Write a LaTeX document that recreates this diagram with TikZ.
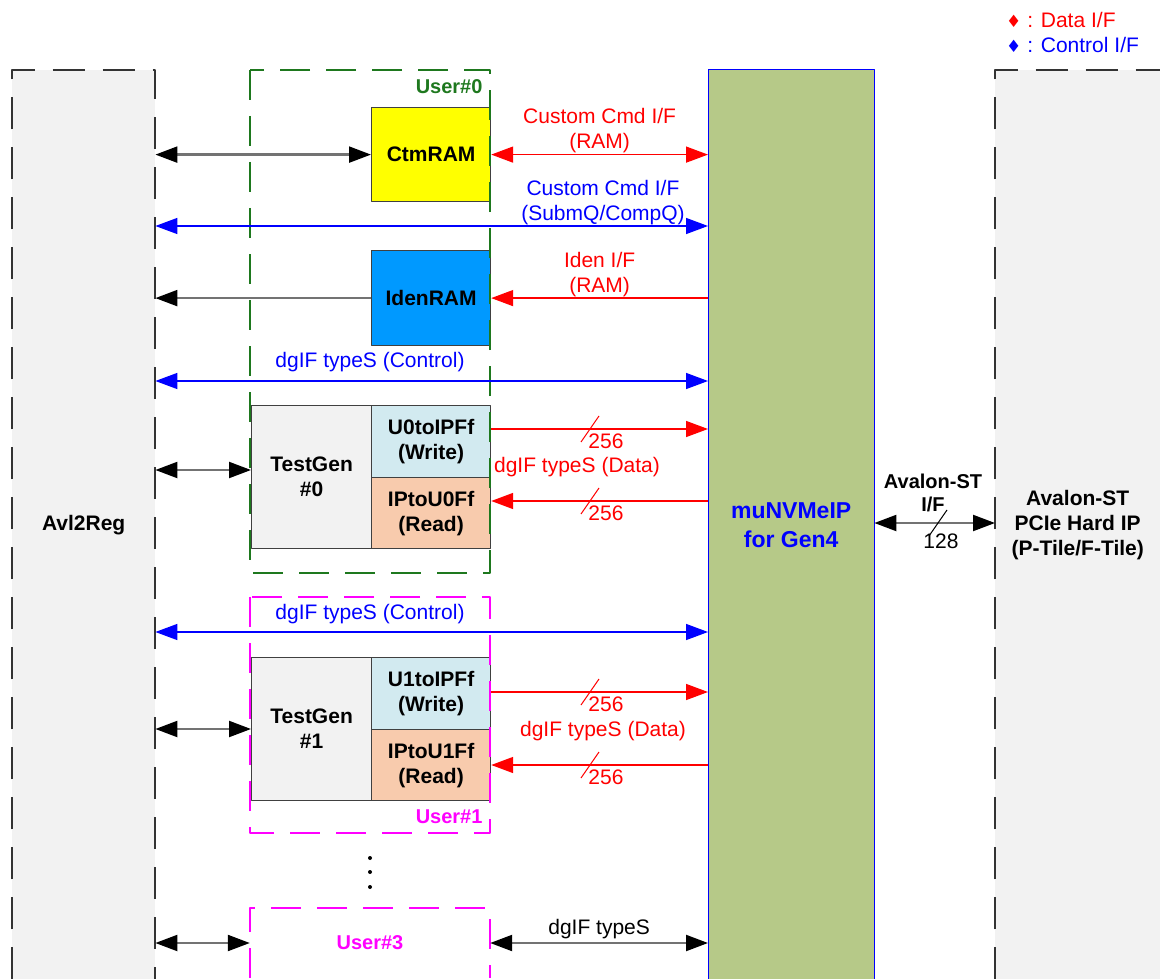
\documentclass[tikz,border=0pt]{standalone}
\usepackage{fontspec}
\setmainfont{Liberation Sans}
\newfontfamily\symf{DejaVu Sans}
\usetikzlibrary{arrows.meta, calc}

\definecolor{avlgray}{RGB}{242,242,242}
\definecolor{nvmegreen}{RGB}{182,201,136}
\definecolor{ramyellow}{RGB}{255,255,0}
\definecolor{idenblue}{RGB}{0,153,255}
\definecolor{fifoblue}{RGB}{210,234,240}
\definecolor{fifopeach}{RGB}{248,203,173}
\definecolor{usergreen}{RGB}{30,120,30}
\definecolor{usermag}{RGB}{255,0,255}
\definecolor{ifred}{RGB}{255,0,0}
\definecolor{ifblue}{RGB}{0,0,255}

\tikzset{
  region/.style={anchor=north west, inner sep=0pt, align=center,
    font=\bfseries\fontsize{21}{25}\selectfont},
  ram/.style={draw=black!75, line width=1.2pt, anchor=north west, inner sep=0pt,
    minimum width=119pt, align=center, font=\bfseries\fontsize{21}{25}\selectfont},
  frame/.style={line width=2pt, dash pattern=on 32pt off 18pt},
  ufrm/.style={line width=2pt, dash pattern=on 30pt off 16pt},
  lbl/.style={inner sep=1pt, align=center, font=\fontsize{21}{25}\selectfont},
  blk/.style={draw=black!55, line width=2.2pt, >={Triangle[length=22pt,width=16pt,color=black]}},
  redl/.style={draw=ifred, line width=1.5pt, >={Triangle[length=22pt,width=16pt]}},
  bluel/.style={draw=ifblue, line width=1.5pt, >={Triangle[length=22pt,width=16pt]}},
  slash/.style={line width=1pt}
}

\begin{document}
\begin{tikzpicture}[x=1pt, y=-1pt, line join=round]
  \useasboundingbox (0,0) rectangle (1160,979);

  % 1. Khoi lon: Avl2Reg, muNVMeIP, PCIe
  \node[region, fill=avlgray, minimum width=143pt, minimum height=909pt] (avl) at (12,70) {Avl2Reg};
  \node[region, fill=avlgray, minimum width=165pt, minimum height=909pt] (pcie) at (995,70)
    {Avalon-ST\\PCIe Hard IP\\(P-Tile/F-Tile)};
  \node[region, fill=nvmegreen, minimum width=166pt, minimum height=909pt, text=ifblue,
    font=\bfseries\fontsize{23}{29}\selectfont] (nvme) at (708,70) {muNVMeIP\\for Gen4};
  \draw[frame, black!80] (avl.south west) -- (avl.north west) -- (avl.north east) -- (avl.south east);
  \draw[frame, black!80] (pcie.south west) -- (pcie.north west) -- (pcie.north east);
  \draw[ifblue, line width=1pt] (nvme.south west) -- (nvme.north west) -- (nvme.north east) -- (nvme.south east);

  % 2. User#0
  \node[ram, fill=ramyellow, minimum height=94pt] (ctm) at (371,107) {CtmRAM};
  \node[ram, fill=idenblue, minimum height=95pt] (iden) at (371,250) {IdenRAM};
  \node[ram, fill=avlgray, minimum width=120pt, minimum height=143pt] (tg0) at (251,405) {TestGen\\\#0};
  \node[ram, fill=fifoblue, minimum height=72pt] (wf0) at (371,405) {U0toIPFf\\(Write)};
  \node[ram, fill=fifopeach, minimum height=71pt] (rf0) at (371,477) {IPtoU0Ff\\(Read)};
  \draw[ufrm, usergreen] (250,70) rectangle (490,573);
  \node[anchor=east, text=usergreen, font=\bfseries\fontsize{20}{23}\selectfont] (u0lbl) at (486,87) {User\#0};

  % 3. User#1
  \node[ram, fill=avlgray, minimum width=120pt, minimum height=143pt] (tg1) at (251,657) {TestGen\\\#1};
  \node[ram, fill=fifoblue, minimum height=72pt] (wf1) at (371,657) {U1toIPFf\\(Write)};
  \node[ram, fill=fifopeach, minimum height=71pt] (rf1) at (371,729) {IPtoU1Ff\\(Read)};
  \draw[ufrm, usermag] (250,597) rectangle (490,833);
  \node[anchor=east, text=usermag, font=\bfseries\fontsize{20}{23}\selectfont] (u1lbl) at (486,817) {User\#1};

  % 4. User#3
  \fill (370,858) circle (2pt) (370,872) circle (2pt) (370,887) circle (2pt);
  \node[inner sep=0pt, minimum width=240pt, minimum height=70pt, text=usermag,
    font=\bfseries\fontsize{20}{23}\selectfont] (user3) at (370,943) {User\#3};
  \draw[ufrm, usermag] (user3.south west) -- (user3.north west) -- (user3.north east) -- (user3.south east);

  % 5. Ket noi
  \draw[blk, <->] (avl.east |- ctm.west) -- (ctm.west);
  \draw[redl, <->] (ctm.east) -- (nvme.west |- ctm.east)
    node[midway, above, lbl, text=ifred] (l1) {Custom Cmd I/F\\(RAM)};
  \draw[bluel, <->] (avl.east |- 0,226) -- (nvme.west |- 0,226);
  \node[above, lbl, text=ifblue] (l2) at (603,226) {Custom Cmd I/F\\(SubmQ/CompQ)};
  \draw[blk, ->] (iden.west) -- (avl.east |- iden.west);
  \draw[redl, ->] (nvme.west |- iden.east) -- (iden.east)
    node[midway, above, lbl, text=ifred] (l3) {Iden I/F\\(RAM)};

  \draw[bluel, <->] (avl.east |- 0,381) -- (nvme.west |- 0,381);
  \node[lbl, text=ifblue] (l4) at (370,362) {dgIF typeS (Control)};
  \draw[blk, <->] (avl.east |- 0,470) -- (tg0.west |- 0,470);
  \draw[redl, ->] (wf0.east |- 0,429) -- (nvme.west |- 0,429);
  \draw[redl, <-] (rf0.east |- 0,501) -- (nvme.west |- 0,501);
  \draw[ifred, slash] (581,442) -- (599,416) (581,514) -- (599,488);
  \node[lbl, text=ifred] (w0) at (606,441) {256};
  \node[lbl, text=ifred] (r0) at (606,513) {256};
  \node[lbl, text=ifred] (d0) at (577,467) {dgIF typeS (Data)};

  \draw[bluel, <->] (avl.east |- 0,632) -- (nvme.west |- 0,632);
  \node[lbl, text=ifblue] (l5) at (370,614) {dgIF typeS (Control)};
  \draw[blk, <->] (avl.east |- 0,729) -- (tg1.west |- 0,729);
  \draw[redl, ->] (wf1.east |- 0,692) -- (nvme.west |- 0,692);
  \draw[redl, <-] (rf1.east |- 0,765) -- (nvme.west |- 0,765);
  \draw[ifred, slash] (581,705) -- (599,679) (581,778) -- (599,752);
  \node[lbl, text=ifred] (w1) at (606,704) {256};
  \node[lbl, text=ifred] (r1) at (606,777) {256};
  \node[lbl, text=ifred] (d1) at (603,731) {dgIF typeS (Data)};

  \draw[blk, <->] (avl.east |- user3.west) -- (user3.west);
  \draw[blk, <->] (user3.east) -- (nvme.west |- user3.east)
    node[midway, above, lbl, text=black, yshift=2pt] (l6) {dgIF typeS};

  \draw[blk, <->] (nvme.east |- 0,523) -- (pcie.west |- 0,523);
  \draw[black, slash] (929,536) -- (947,510);
  \node[lbl] (a128) at (941,541) {128};
  \node[lbl, font=\bfseries\fontsize{20}{23}\selectfont] (aif) at (933,493) {Avalon-ST\\I/F};

  % 6. Chu thich
  \node[anchor=west, text=ifred, inner sep=0pt, font=\fontsize{21}{24}\selectfont] (leg1) at (1006,20)
    {{\symf\fontsize{17}{18}\selectfont ♦} : Data I/F};
  \node[anchor=west, text=ifblue, inner sep=0pt, font=\fontsize{21}{24}\selectfont] (leg2) at (1006,45)
    {{\symf\fontsize{17}{18}\selectfont ♦} : Control I/F};
\end{tikzpicture}
\end{document}
